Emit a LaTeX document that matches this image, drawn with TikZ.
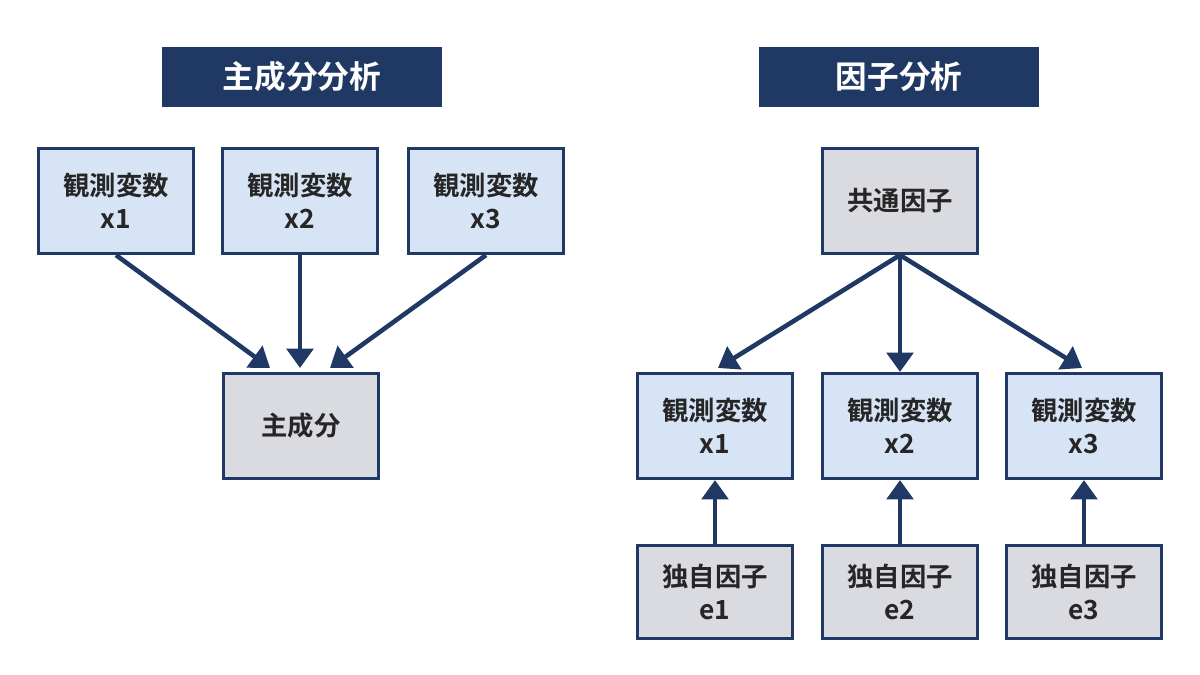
\documentclass[tikz,border=0pt]{standalone}
\usepackage{fontspec}
\setmainfont{Noto Sans CJK JP}[BoldFont={* Bold}]
\usetikzlibrary{arrows.meta}
\definecolor{navy}{HTML}{1F3864}
\definecolor{obsfill}{HTML}{D6E4F5}
\definecolor{facfill}{HTML}{DADBE0}
\tikzset{
    box/.style={draw=navy, line width=1.8pt, minimum width=3.1cm, minimum height=2.1cm,
        align=center, font=\bfseries\fontsize{15}{19}\selectfont, text=black!85},
    obs/.style={box, fill=obsfill},
    fac/.style={box, fill=facfill},
    uniq/.style={box, fill=facfill, minimum height=1.85cm},
    title/.style={fill=navy, text=white, minimum width=5.6cm, minimum height=1.22cm,
        font=\bfseries\fontsize{18}{22}\selectfont},
    arr/.style={draw=navy, line width=2.6pt, -{Triangle[length=11pt,width=15pt]}}
}
\begin{document}
\begin{tikzpicture}[x=0.02cm,y=-0.02cm]
    \useasboundingbox[fill=white] (0,0) rectangle (1200,675);
    % titles
    \node[title] (tpca) at (302,77) {主成分分析};
    \node[title] (tfa) at (899,77) {因子分析};
    % principal components
    \node[obs] (p1) at (116,201) {観測変数\\x1};
    \node[obs] (p2) at (300,201) {観測変数\\x2};
    \node[obs] (p3) at (486,201) {観測変数\\x3};
    \node[fac] (pc) at (301,426) {主成分};
    \coordinate (pc1) at (270,368);
    \coordinate (pc2) at (300,368);
    \coordinate (pc3) at (330,368);
    \draw[arr] (p1.south) -- (pc1);
    \draw[arr] (p2.south) -- (pc2);
    \draw[arr] (p3.south) -- (pc3);
    % factor analysis
    \node[fac] (cf) at (900,201) {共通因子};
    \node[obs] (x1) at (715,426) {観測変数\\x1};
    \node[obs] (x2) at (900,426) {観測変数\\x2};
    \node[obs] (x3) at (1084,426) {観測変数\\x3};
    \node[uniq] (e1) at (715,592) {独自因子\\e1};
    \node[uniq] (e2) at (900,592) {独自因子\\e2};
    \node[uniq] (e3) at (1084,592) {独自因子\\e3};
    \coordinate (cf1) at (718,368);
    \coordinate (cf3) at (1082,368);
    \draw[arr] (cf.south) -- (cf1);
    \draw[arr] (cf.south) -- (x2.north);
    \draw[arr] (cf.south) -- (cf3);
    \draw[arr] (e1) -- (x1);
    \draw[arr] (e2) -- (x2);
    \draw[arr] (e3) -- (x3);
\end{tikzpicture}
\end{document}
